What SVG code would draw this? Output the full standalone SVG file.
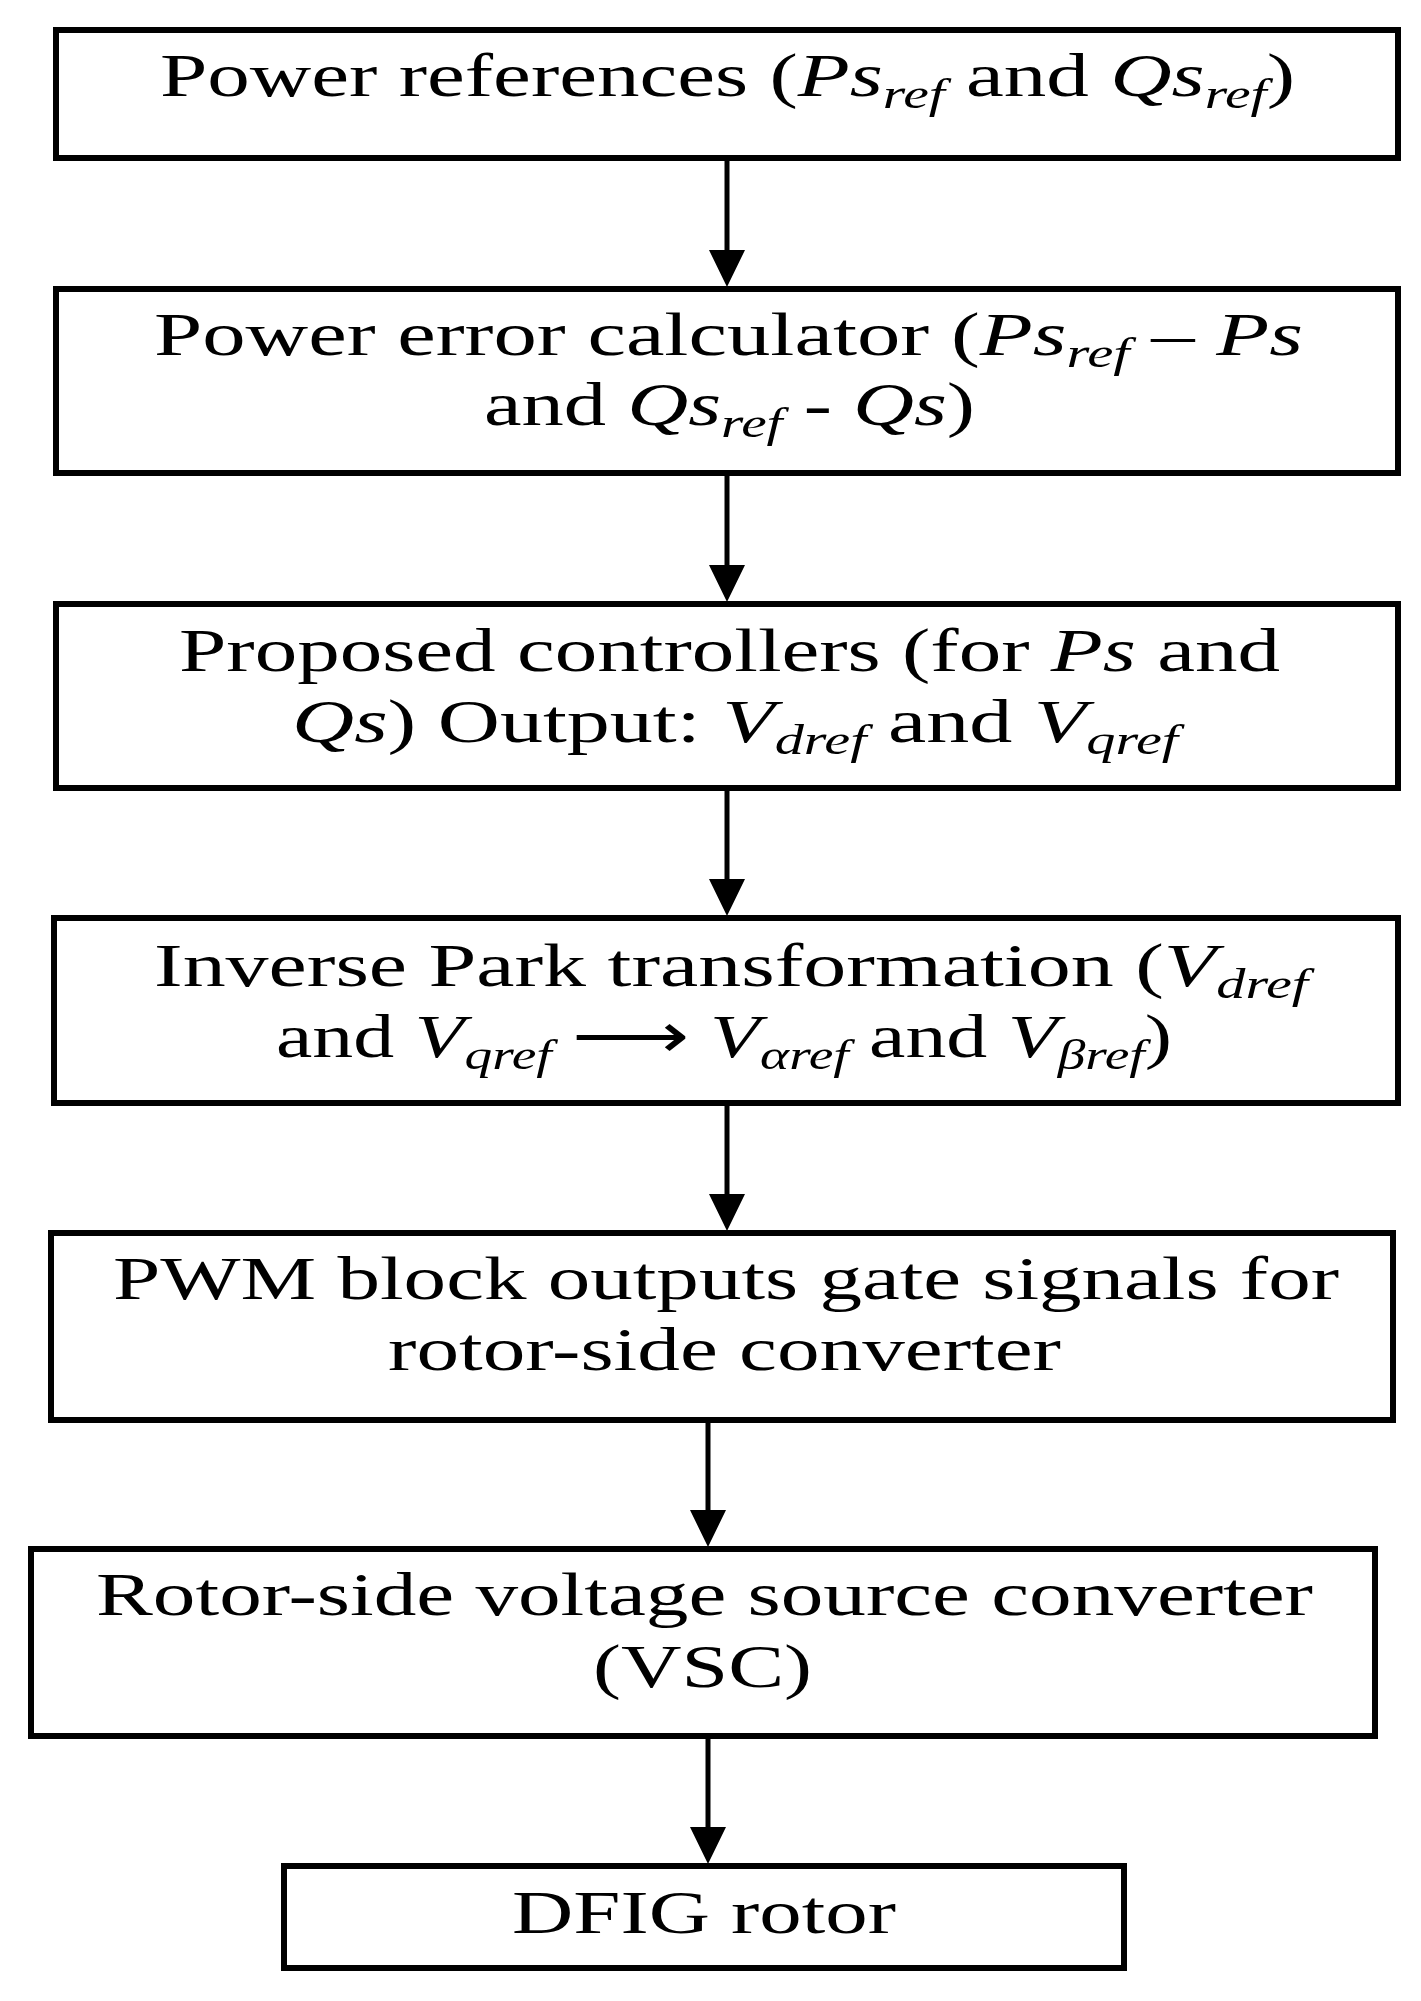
<svg xmlns="http://www.w3.org/2000/svg" width="1421" height="2001" viewBox="0 0 1421 2001">
<style>
rect{fill:#fff;stroke:#000;stroke-width:6}
text{font-family:"Liberation Serif",serif;font-size:62px;fill:#000}
.i{font-style:italic}
.s{font-style:italic;font-size:42px}
line{stroke:#000;stroke-width:5}
</style>
<g id="connectors">
<line x1="727" y1="159" x2="727" y2="252"/>
<line x1="727" y1="474" x2="727" y2="567"/>
<line x1="727" y1="788" x2="727" y2="881"/>
<line x1="727" y1="1103" x2="727" y2="1196"/>
<line x1="708" y1="1420" x2="708" y2="1512"/>
<line x1="708" y1="1736" x2="708" y2="1829"/>
<path d="M709,250h36l-18,37z M709,565h36l-18,37z M709,879h36l-18,37z M709,1194h36l-18,37z M690,1510h36l-18,37z M690,1827h36l-18,37z"/>
</g>
<g id="n1"><rect x="56" y="30" width="1342" height="128"/>
<text x="160" y="96" textLength="1135" lengthAdjust="spacingAndGlyphs">Power references (<tspan class="i">Ps</tspan><tspan class="s" dy="12">ref</tspan><tspan dy="-12"> and </tspan><tspan class="i">Qs</tspan><tspan class="s" dy="12">ref</tspan><tspan dy="-12">)</tspan></text></g>
<g id="n2"><rect x="56" y="289" width="1342" height="184"/>
<text x="154" y="355" textLength="1149" lengthAdjust="spacingAndGlyphs">Power error calculator  (<tspan class="i">Ps</tspan><tspan class="s" dy="12">ref</tspan><tspan dy="-12"> – </tspan><tspan class="i">Ps</tspan></text>
<text x="484" y="425" textLength="491" lengthAdjust="spacingAndGlyphs">and <tspan class="i">Qs</tspan><tspan class="s" dy="12">ref</tspan><tspan dy="-12"> - </tspan><tspan class="i">Qs</tspan>)</text></g>
<g id="n3"><rect x="56" y="604" width="1342" height="184"/>
<text x="179" y="671" textLength="1101" lengthAdjust="spacingAndGlyphs">Proposed controllers (for <tspan class="i">Ps</tspan> and</text>
<text x="292" y="742" textLength="886" lengthAdjust="spacingAndGlyphs"><tspan class="i">Qs</tspan>) Output: <tspan class="i">V</tspan><tspan class="s" dy="12">dref</tspan><tspan dy="-12"> and </tspan><tspan class="i">V</tspan><tspan class="s" dy="12">qref</tspan></text></g>
<g id="n4"><rect x="54" y="918" width="1344" height="185"/>
<text x="154" y="986" textLength="1154" lengthAdjust="spacingAndGlyphs">Inverse Park transformation (<tspan class="i">V</tspan><tspan class="s" dy="12">dref</tspan></text>
<text x="276" y="1057" textLength="896" lengthAdjust="spacingAndGlyphs">and <tspan class="i">V</tspan><tspan class="s" dy="12">qref</tspan><tspan dy="-12"> ⟶ </tspan><tspan class="i">V</tspan><tspan class="s" dy="12">αref</tspan><tspan dy="-12"> and </tspan><tspan class="i">V</tspan><tspan class="s" dy="12">βref</tspan><tspan dy="-12">)</tspan></text></g>
<g id="n5"><rect x="51" y="1233" width="1342" height="187"/>
<text x="113" y="1299" textLength="1226" lengthAdjust="spacingAndGlyphs">PWM block outputs gate signals for</text>
<text x="388" y="1370" textLength="673" lengthAdjust="spacingAndGlyphs">rotor-side converter</text></g>
<g id="n6"><rect x="31" y="1549" width="1344" height="187"/>
<text x="96" y="1615" textLength="1217" lengthAdjust="spacingAndGlyphs">Rotor-side voltage source converter</text>
<text x="593" y="1687" textLength="219" lengthAdjust="spacingAndGlyphs">(VSC)</text></g>
<g id="n7"><rect x="284" y="1866" width="840" height="102"/>
<text x="512" y="1933" textLength="384" lengthAdjust="spacingAndGlyphs">DFIG rotor</text></g>
</svg>
